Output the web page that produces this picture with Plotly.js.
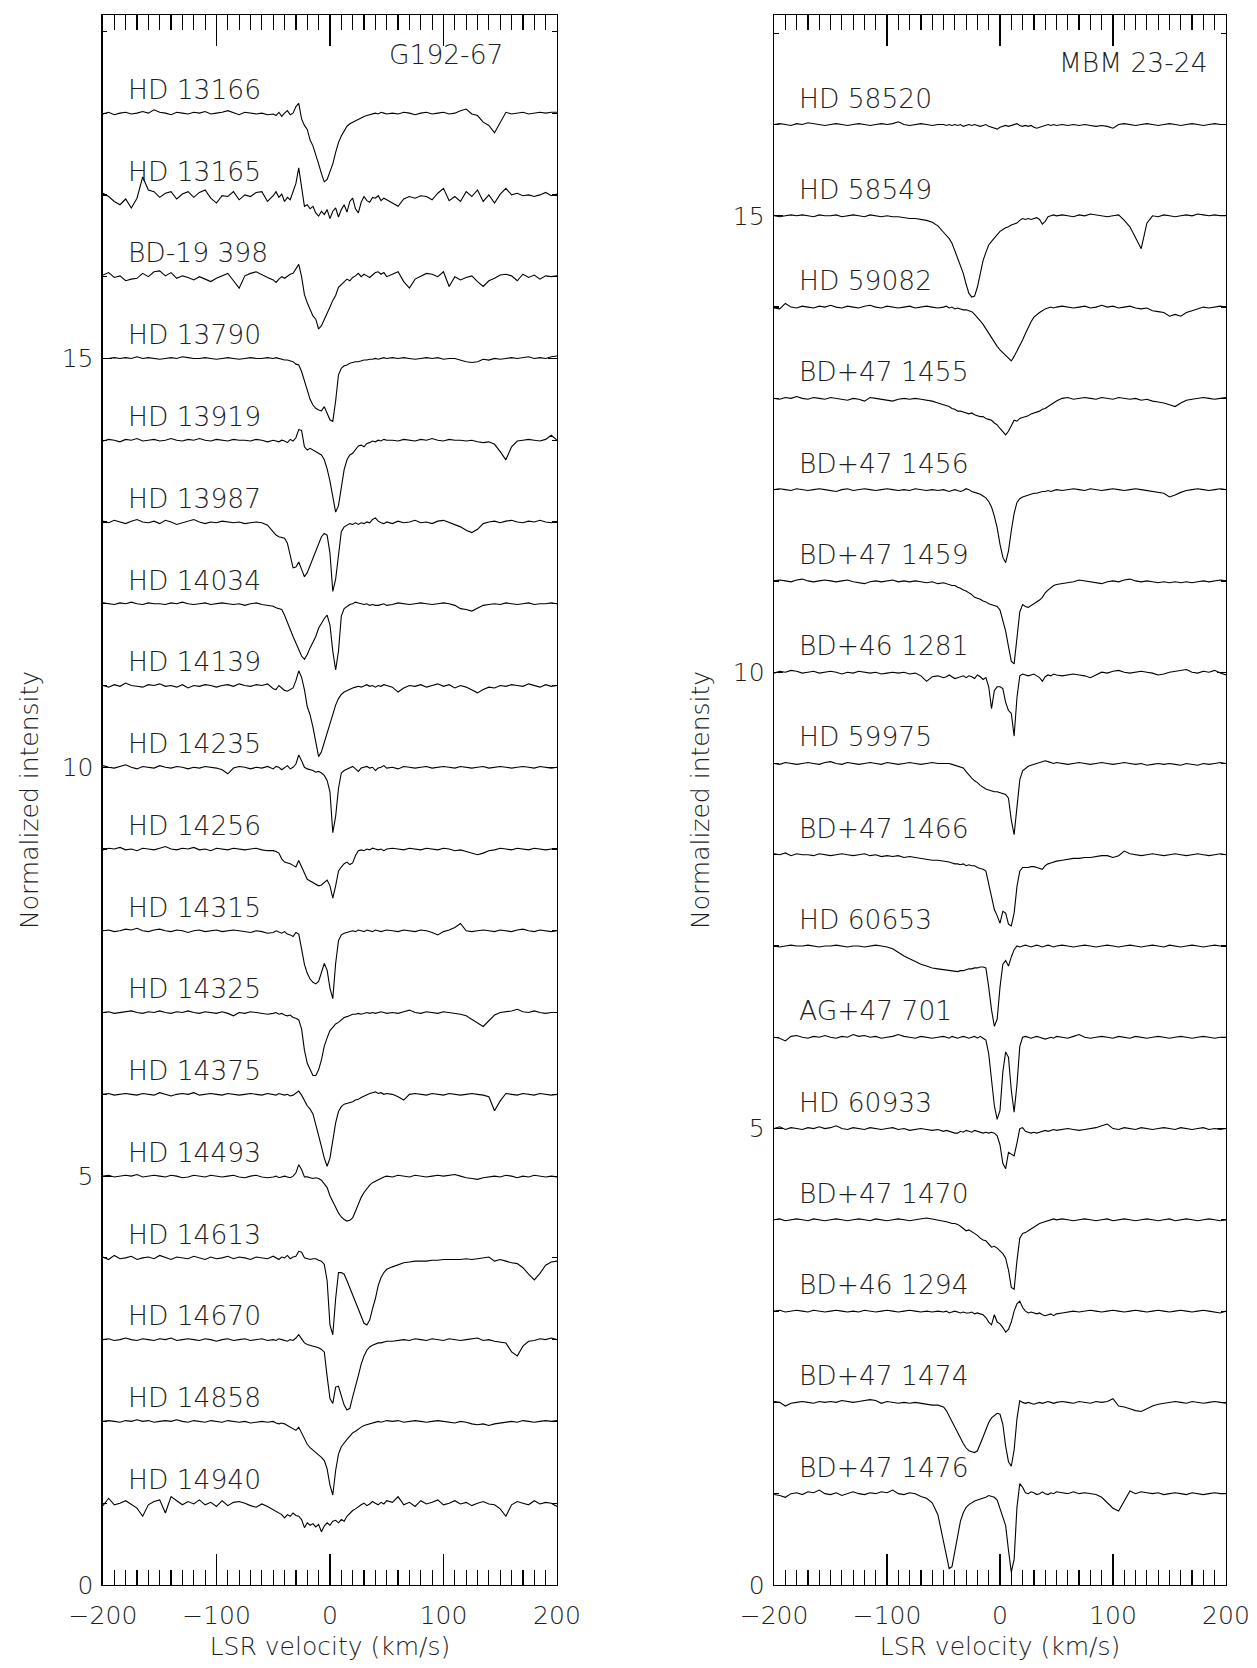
<!DOCTYPE html>
<html><head><meta charset="utf-8">
<script src="https://cdn.plot.ly/plotly-3.0.1.min.js"></script>
<style>html,body{margin:0;padding:0;background:#fff}#chart{width:1257px;height:1668px}</style>
</head><body><div id="chart"></div>
<script>
// LSR velocity grid (km/s)
const velocity = [
-200,-195,-190,-185,-180,-175,-170,-165,-160,-155,-150,-145,-140,-135,-130,-125,-120,-115,-110,-105,-100,-95,-90,-85,-80,-75,-70,-65,-60,-55,
-50,-47.5,-45,-42.5,-40,-37.5,-35,-32.5,-30,-27.5,-25,-22.5,-20,-17.5,-15,-12.5,-10,-7.5,-5,-2.5,0,2.5,5,7.5,10,12.5,15,17.5,20,22.5,25,27.5,30,32.5,35,37.5,40,42.5,45,47.5,50,
55,60,65,70,75,80,85,90,95,100,105,110,115,120,125,130,135,140,145,150,155,160,165,170,175,180,185,190,195,200];

// Normalized intensity (percent of continuum), G192-67 field
const hd13166 = [99,101,98,100,101,99,100,102,100,104,101,100,98,101,100,99,101,100,102,99,100,101,103,100,98,101,100,99,100,98,
99,97,101,96,100,103,98,100,108,112,93,85,80,67,60,50,38,26,16,19,28,38,52,64,72,79,84,87,89,91,93,95,96,97,98,99,100,99,101,100,99,
100,99,101,100,98,100,101,99,100,101,99,100,103,105,99,97,89,85,76,88,101,99,100,101,99,100,101,100,101,101];
const hd13165 = [102,98,92,88,95,84,96,122,106,104,97,102,104,95,101,104,97,103,106,96,90,99,98,104,94,100,98,103,104,92,
99,104,97,101,92,97,94,105,114,133,110,86,88,83,86,78,74,80,76,82,71,80,84,73,82,88,79,92,96,83,78,91,98,93,91,97,96,99,93,96,94,
90,86,95,98,96,99,98,94,102,108,93,98,92,104,98,106,92,100,90,101,108,100,102,99,100,98,100,103,99,101];
const bdm19_398 = [102,105,99,101,95,97,98,104,100,106,107,101,105,98,101,99,96,100,97,94,98,101,104,95,86,101,104,106,102,99,
96,93,97,100,98,101,103,104,110,115,100,78,68,61,52,48,36,40,47,55,63,71,77,87,90,94,97,95,99,101,104,100,103,101,99,102,105,106,103,105,100,
103,106,94,86,97,101,104,103,100,106,88,100,96,99,101,94,88,95,98,102,103,101,95,103,99,102,97,101,100,101];
const hd13790 = [100,100,101,100,101,100,102,100,101,100,99,100,101,100,102,101,100,100,101,100,99,100,101,100,99,100,101,100,100,101,
100,101,100,99,98,98,97,96,93,92,84,72,60,50,43,39,37,36,41,34,25,23,48,80,88,91,92,94,95,96,96,97,98,98,99,99,100,99,100,101,100,
101,100,101,100,99,100,101,100,101,99,100,100,98,96,95,96,99,98,100,99,100,101,100,101,102,100,101,100,102,103];
const hd13919 = [99,101,100,98,101,100,102,99,100,101,99,100,102,100,99,101,100,102,100,99,101,100,99,101,100,100,99,101,100,98,
100,99,98,100,99,97,101,99,103,113,112,92,88,90,88,86,85,82,76,65,50,30,12,20,42,64,76,82,84,89,93,94,92,96,97,99,98,100,99,101,100,
100,99,101,100,99,101,100,102,100,99,101,100,100,99,100,98,97,98,95,86,76,92,99,100,101,100,99,101,106,100];
const hd13987 = [101,99,102,100,98,101,103,100,99,101,98,102,100,97,99,101,103,100,98,100,99,101,100,99,100,98,99,100,99,96,
88,84,82,81,80,74,58,44,45,51,42,33,38,47,56,64,75,82,86,84,62,15,30,62,88,94,96,98,97,99,97,99,98,100,99,103,105,101,99,98,100,
98,101,99,100,102,99,100,98,101,102,99,97,94,90,87,91,98,100,101,99,101,102,100,99,101,100,102,100,99,100];
const hd14034 = [101,100,99,101,100,102,100,99,101,100,100,99,101,100,102,100,99,100,101,99,100,101,100,99,100,98,100,101,99,98,
97,95,94,93,86,77,67,60,52,43,36,32,38,46,53,60,70,77,82,86,74,42,19,42,85,94,97,99,100,102,101,100,99,100,98,99,98,98,99,100,98,
99,101,100,99,100,101,100,99,100,101,100,98,94,93,91,95,98,99,100,99,101,100,99,100,101,99,100,100,101,100];
const hd14139 = [100,98,101,99,103,100,99,98,101,100,102,99,100,98,101,97,100,99,101,100,98,100,101,99,102,100,99,101,100,102,
96,95,100,97,94,93,95,97,106,118,110,95,74,64,49,30,13,19,30,43,52,66,76,84,89,92,94,96,97,98,99,98,100,101,99,100,98,100,99,101,100,
98,92,97,100,99,101,98,100,102,99,101,97,100,98,94,91,95,98,97,100,99,101,100,99,102,100,98,101,99,100];
const hd14235 = [102,100,99,101,103,100,98,101,100,99,102,100,99,101,100,98,100,99,101,100,99,97,92,99,101,100,98,100,99,101,
98,101,100,97,99,102,98,100,104,115,108,100,98,97,96,94,95,93,90,84,70,20,40,74,93,96,98,100,101,98,95,99,100,101,99,100,96,99,100,102,99,
100,98,101,100,99,100,101,99,100,101,100,99,101,100,99,100,101,99,100,101,100,99,100,101,100,99,101,100,99,100];
const hd14256 = [99,101,100,102,99,100,98,101,100,99,101,103,100,99,101,100,102,99,100,98,101,100,99,101,100,99,100,101,99,98,
98,97,95,88,84,83,82,80,78,86,79,70,63,61,59,57,55,56,59,62,55,40,55,73,78,82,84,81,83,92,98,99,98,100,99,101,100,99,100,98,100,
101,100,99,101,100,99,101,100,99,101,100,98,99,97,95,93,95,98,99,101,100,99,101,100,99,101,100,99,100,100];
const hd14315 = [100,101,99,100,102,101,103,100,99,101,102,100,99,101,100,98,100,101,99,100,101,99,100,101,100,99,98,100,99,97,
98,100,98,97,99,96,95,93,98,96,78,59,48,41,37,35,38,48,60,52,30,17,60,88,95,97,98,99,100,99,101,100,99,101,100,99,101,100,99,100,101,
100,99,101,100,99,101,100,98,95,99,101,104,109,100,99,100,101,100,99,101,100,99,101,102,100,99,101,100,99,100];
const hd14325 = [100,101,99,100,101,102,100,99,101,100,102,100,99,101,100,102,100,99,101,100,99,101,99,96,100,99,101,100,99,98,
99,100,98,99,97,96,97,94,93,91,80,54,38,30,23,23,30,42,59,69,78,82,86,88,91,94,95,97,98,98,99,98,99,100,99,100,99,100,101,100,99,
100,99,101,103,100,99,101,100,99,101,100,99,98,96,92,88,83,90,97,100,101,102,104,101,100,102,100,99,100,100];
const hd14375 = [100,101,99,100,101,100,99,101,100,99,102,100,98,100,101,100,102,99,100,101,100,99,101,100,99,100,101,100,99,101,
100,99,101,100,99,100,98,99,101,104,99,92,86,82,76,63,51,36,22,12,22,44,65,79,85,88,89,90,91,93,94,96,98,100,101,102,103,101,102,100,101,
100,97,93,100,101,100,99,101,100,99,101,100,99,100,101,100,99,97,80,92,101,100,99,101,100,99,101,100,99,100];
const hd14493 = [100,101,99,100,101,100,102,99,100,101,100,99,101,100,98,99,101,100,99,101,100,99,100,101,99,98,100,101,99,98,
99,100,98,99,100,99,98,100,104,114,108,99,99,98,97,98,97,95,91,86,76,68,62,55,50,47,45,46,49,57,66,74,80,85,89,92,94,96,97,99,100,
99,101,100,99,101,100,99,100,101,100,101,102,100,98,97,96,98,99,100,99,101,100,98,100,99,101,100,99,100,99];
const hd14613 = [101,98,103,99,100,102,98,100,101,99,103,100,98,101,100,99,102,100,98,101,99,100,102,99,101,100,98,101,100,99,
102,100,98,101,100,103,99,101,102,108,107,100,99,98,99,99,97,96,92,72,18,6,50,82,82,80,72,63,55,46,38,28,20,18,24,38,50,66,76,82,86,
89,92,94,95,96,96,96,97,97,98,98,98,98,99,98,99,100,101,96,98,96,94,93,88,80,73,81,91,95,96];
const hd14670 = [100,101,99,100,102,100,99,101,100,99,101,100,102,99,100,101,100,99,101,100,98,100,101,99,100,101,99,100,101,99,
100,99,101,100,99,98,100,99,102,106,101,96,94,93,92,91,90,88,85,55,28,22,42,43,30,20,14,16,30,45,56,70,80,87,91,93,95,96,96,97,98,
98,99,100,99,101,100,99,101,100,99,101,100,99,100,101,102,99,100,98,97,96,85,80,92,98,99,101,100,102,100];
const hd14858 = [100,101,100,99,101,100,102,100,101,99,100,101,100,102,100,99,101,100,99,101,100,99,101,100,99,100,98,99,100,99,
100,98,97,98,97,95,93,92,89,93,86,78,72,68,65,62,60,56,52,42,22,10,40,60,69,74,78,82,86,88,91,93,95,96,97,98,99,100,99,100,101,
100,101,99,100,101,100,99,100,101,100,99,98,100,99,97,96,97,95,97,98,99,100,99,101,100,99,100,101,100,101];
const hd14940 = [97,106,98,100,103,99,94,84,98,102,104,88,108,103,98,102,99,104,98,101,96,103,97,101,102,100,97,95,99,96,
92,90,88,86,82,86,84,88,85,84,80,70,76,73,75,71,74,65,72,76,73,78,79,76,80,78,84,88,91,93,96,98,100,97,99,102,100,98,101,99,103,
101,108,98,101,96,103,99,101,104,98,100,103,99,101,97,100,102,99,98,93,84,98,102,100,98,103,99,101,100,96];

// Normalized intensity (percent of continuum), MBM 23-24 field
const hd58520 = [100,101,100,99,101,100,102,101,100,99,100,101,100,99,100,101,100,99,100,101,100,101,103,100,99,100,101,100,99,100,
100,99,100,99,100,99,100,98,99,100,99,100,99,98,99,100,98,97,96,95,97,98,99,98,99,100,101,99,98,99,98,99,97,96,97,98,99,100,99,100,99,
100,99,100,99,100,99,98,99,98,96,100,101,100,99,100,101,100,99,100,101,100,99,100,101,100,99,100,101,100,100];
const hd58549 = [100,99,100,101,100,101,100,99,101,100,100,101,99,100,101,100,99,101,100,99,100,99,99,98,97,97,96,95,93,89,
82,79,75,70,62,54,46,37,25,15,11,12,22,38,51,60,68,72,76,80,83,85,87,88,90,91,92,95,97,96,97,96,97,98,96,91,94,99,100,101,100,
101,100,99,101,100,102,101,100,99,100,101,95,88,76,64,92,100,99,101,100,99,100,101,100,102,101,100,101,100,100];
const hd59082 = [99,98,104,100,99,101,100,99,101,100,102,100,99,101,100,99,101,102,100,99,101,100,99,100,101,99,100,101,100,99,
100,101,99,100,98,99,98,97,97,96,95,92,89,85,81,76,71,66,61,57,53,50,48,45,41,46,52,57,64,71,78,84,89,92,94,96,98,99,100,99,100,
101,100,99,100,101,99,100,102,100,101,99,100,101,99,98,99,96,95,94,90,92,90,94,96,98,100,99,100,101,100];
const bdp47_1455 = [100,99,101,100,102,100,99,101,100,99,101,100,99,98,100,99,97,101,100,99,98,97,99,100,99,100,99,98,97,95,
93,92,91,89,88,86,86,85,84,83,84,82,81,80,80,78,77,76,73,71,67,63,60,64,71,76,75,78,79,80,81,83,84,85,86,88,89,91,93,95,97,
100,101,99,100,101,100,99,101,100,99,101,100,99,100,98,99,97,96,95,93,91,95,98,99,100,101,100,99,100,101];
const bdp47_1456 = [100,101,100,99,101,100,99,100,101,100,99,98,100,101,99,100,101,100,99,100,101,100,99,100,99,101,100,99,100,99,
100,99,98,99,100,99,98,99,101,100,98,97,96,95,93,91,87,81,71,58,40,26,20,33,55,74,86,90,92,93,94,95,96,96,97,98,98,99,98,99,100,
99,100,101,100,99,101,100,99,100,101,100,99,100,101,100,99,98,97,96,92,94,97,99,100,101,100,99,100,101,100];
const bdp47_1459 = [100,101,100,99,101,102,100,99,100,101,100,99,100,101,99,98,97,99,100,99,100,101,99,100,99,100,99,98,99,97,
98,97,96,95,95,93,92,90,89,87,85,82,81,80,78,77,75,74,73,72,68,56,45,28,12,9,35,66,74,72,71,73,75,77,79,82,87,90,93,95,96,
97,98,99,101,100,99,98,97,99,100,99,101,102,100,99,100,99,98,99,98,99,98,99,98,99,100,99,100,101,100];
const bdp46_1281 = [99,101,100,102,101,99,100,101,99,100,101,100,98,100,99,101,100,99,100,98,99,100,99,100,98,99,96,90,95,96,
94,95,97,95,93,94,95,96,94,96,95,93,97,95,92,94,84,60,80,84,84,82,67,58,55,30,72,96,98,97,96,97,98,96,94,90,95,97,96,98,97,
96,97,98,97,96,94,97,100,99,101,102,100,99,100,101,100,99,97,98,100,101,102,103,100,99,101,100,102,99,97];
const hd59975 = [100,99,101,100,99,100,101,100,99,101,102,100,99,101,100,99,100,101,100,99,101,100,99,100,101,100,99,100,101,100,
100,100,100,99,98,97,96,95,91,87,84,81,79,76,74,72,71,70,69,69,68,67,66,62,38,22,52,82,92,95,97,98,99,100,101,102,103,102,101,100,101,
100,99,100,101,100,99,100,101,100,99,100,101,100,99,100,98,99,100,99,100,99,98,100,99,98,100,99,100,101,100];
const bdp47_1466 = [101,100,102,99,101,100,100,99,101,100,99,100,101,100,99,100,101,99,100,98,99,98,99,97,98,97,96,95,94,94,
93,93,92,91,90,90,89,90,88,89,88,88,86,85,84,82,68,52,40,33,25,38,36,24,22,36,65,82,86,86,86,87,87,86,85,84,88,90,91,92,93,
94,95,96,96,97,97,98,99,99,97,99,104,101,100,99,100,101,100,99,100,101,100,99,100,101,100,99,100,101,100];
const hd60653 = [100,99,100,101,100,100,101,100,99,100,100,101,100,99,100,100,99,100,101,100,99,97,93,89,86,83,80,78,76,75,
74,74,73,73,72,72,73,73,74,75,75,76,76,77,77,76,55,30,12,20,55,80,84,78,88,96,100,99,100,101,100,99,100,101,100,99,100,101,100,99,100,
101,100,99,100,101,100,99,100,101,100,99,100,101,100,99,100,101,100,99,101,100,99,100,101,100,99,100,101,100,100];
const agp47_701 = [100,99,96,101,102,100,99,101,100,102,100,99,101,100,103,101,102,100,101,99,100,101,103,101,100,99,101,100,99,100,
101,100,99,101,100,99,100,101,100,99,100,101,99,101,99,97,82,50,25,10,20,62,84,78,42,18,48,90,100,101,100,99,100,101,100,99,98,99,100,99,101,
100,99,101,103,100,99,100,101,100,99,101,100,99,101,100,99,100,101,100,99,100,101,100,99,100,101,100,99,100,100];
const hd60933 = [100,102,99,101,100,99,101,100,102,100,101,103,100,99,101,100,99,101,100,99,100,101,99,100,98,99,100,99,98,99,
97,98,97,96,95,95,97,96,98,97,96,98,97,96,95,96,95,96,95,92,82,62,56,74,72,70,84,100,101,97,96,95,96,95,96,97,98,97,98,99,98,
99,100,99,98,99,100,101,103,105,100,99,101,100,99,101,100,99,100,101,100,99,101,100,99,100,101,99,100,99,100];
const bdp47_1470 = [100,101,99,100,101,100,99,101,100,99,100,101,100,99,100,101,100,99,101,100,99,100,101,100,99,100,101,102,101,100,
99,98,97,96,96,95,93,90,88,89,87,85,83,80,78,77,73,70,71,69,66,63,58,45,26,24,55,80,85,86,88,90,92,94,96,97,98,99,100,101,100,
101,100,99,100,101,100,99,100,101,99,100,101,100,99,100,101,100,99,100,101,99,100,101,100,99,100,101,100,99,100];
const bdp46_1294 = [100,101,99,100,101,100,99,101,100,99,100,101,100,99,100,99,101,100,99,100,101,100,99,100,101,100,99,100,99,100,
99,100,98,99,100,99,98,99,98,98,99,97,98,97,96,93,88,85,96,88,86,82,77,80,88,100,108,111,104,100,98,99,98,97,98,96,95,96,97,95,97,
98,99,100,99,100,101,100,99,100,101,100,99,100,101,100,99,100,101,100,99,100,101,100,99,100,101,100,99,98,100];
const bdp47_1474 = [101,100,96,99,100,101,100,99,101,100,101,100,102,101,100,101,102,103,102,99,101,100,99,100,99,100,99,98,97,97,
95,91,85,78,72,66,60,55,50,47,46,45,47,54,62,70,78,83,86,88,87,76,52,35,30,48,82,102,100,99,100,99,98,99,100,99,100,101,100,99,100,
101,100,99,101,100,99,101,100,101,104,96,95,93,91,90,93,96,98,99,100,101,100,99,101,100,99,100,101,100,99];
const bdp47_1476 = [99,98,96,100,101,99,102,101,104,100,99,101,98,100,102,100,99,101,100,102,101,104,100,99,101,100,97,95,90,77,
48,32,18,20,36,56,70,79,85,88,90,92,93,94,95,96,98,97,96,93,84,76,65,38,14,28,85,111,107,101,100,102,101,99,100,102,100,99,101,100,102,
101,100,102,100,101,100,99,96,90,84,81,92,103,100,102,101,100,101,99,100,101,100,99,101,100,99,100,101,100,100];

const leftStars = ['HD 13166','HD 13165','BD-19 398','HD 13790','HD 13919','HD 13987','HD 14034','HD 14139','HD 14235',
  'HD 14256','HD 14315','HD 14325','HD 14375','HD 14493','HD 14613','HD 14670','HD 14858','HD 14940'];
const leftSpectra = [hd13166,hd13165,bdm19_398,hd13790,hd13919,hd13987,hd14034,hd14139,hd14235,
  hd14256,hd14315,hd14325,hd14375,hd14493,hd14613,hd14670,hd14858,hd14940];
const rightStars = ['HD 58520','HD 58549','HD 59082','BD+47 1455','BD+47 1456','BD+47 1459','BD+46 1281','HD 59975',
  'BD+47 1466','HD 60653','AG+47 701','HD 60933','BD+47 1470','BD+46 1294','BD+47 1474','BD+47 1476'];
const rightSpectra = [hd58520,hd58549,hd59082,bdp47_1455,bdp47_1456,bdp47_1459,bdp46_1281,hd59975,
  bdp47_1466,hd60653,agp47_701,hd60933,bdp47_1470,bdp46_1294,bdp47_1474,bdp47_1476];
const leftField = 'G192-67';
const rightField = 'MBM 23-24';

const FONT = {family: 'DejaVu Sans, Liberation Sans, sans-serif', size: 25, color: '#1e1e1e', weight: 300};
const LABEL_FONT = {family: 'DejaVu Sans, Liberation Sans, sans-serif', size: 26.5, color: '#1e1e1e', weight: 300};
const traces = [];
const annotations = [];

function addPanel(stars, spectra, xa, ya) {
  const n = spectra.length;
  spectra.forEach((s, i) => {
    const shift = n - 1 - i;
    traces.push({
      x: velocity, y: s.map(v => v / 100 + shift),
      xaxis: xa, yaxis: ya, type: 'scatter', mode: 'lines',
      line: {color: '#000', width: 1.1}, hoverinfo: 'skip', showlegend: false
    });
    annotations.push({
      xref: xa, yref: ya, x: -180, y: shift + 1.29, text: stars[i],
      xanchor: 'left', yanchor: 'middle', showarrow: false, font: LABEL_FONT
    });
  });
}
addPanel(leftStars, leftSpectra, 'x', 'y');
addPanel(rightStars, rightSpectra, 'x2', 'y2');
annotations.push({xref: 'x', yref: 'y', x: 154, y: 18.72, text: leftField,
  xanchor: 'right', yanchor: 'middle', showarrow: false, font: LABEL_FONT});
annotations.push({xref: 'x2', yref: 'y2', x: 186, y: 16.68, text: rightField,
  xanchor: 'right', yanchor: 'middle', showarrow: false, font: LABEL_FONT});

function xAxis(domain, anchor) {
  return {
    domain: domain, anchor: anchor, range: [-200, 200], tick0: 0, dtick: 100,
    ticks: 'inside', ticklen: 31, tickwidth: 1.2, tickcolor: '#000',
    showline: true, linecolor: '#000', linewidth: 1.5, mirror: 'ticks',
    showgrid: false, zeroline: false, tickfont: FONT, ticklabelstandoff: 8,
    minor: {dtick: 10, tick0: 0, ticks: 'inside', ticklen: 15, tickwidth: 1.2, tickcolor: '#000', showgrid: false},
    title: {text: 'LSR velocity (km/s)', font: FONT, standoff: 8}
  };
}
function yAxis(domain, anchor, top) {
  return {
    domain: domain, anchor: anchor, range: [0, top], tick0: 0, dtick: 5,
    ticks: 'inside', ticklen: 9, tickwidth: 1.2, tickcolor: '#000',
    showline: true, linecolor: '#000', linewidth: 1.5, mirror: 'ticks',
    showgrid: false, zeroline: false, tickfont: FONT, ticklabelstandoff: 3,
    minor: {dtick: 1, tick0: 0, ticks: 'inside', ticklen: 4.5, tickwidth: 1.2, tickcolor: '#000', showgrid: false},
    title: {text: 'Normalized intensity', font: FONT, standoff: 16}
  };
}
const yDom = [0.0498, 0.9910];
const layout = {
  width: 1257, height: 1668, margin: {l: 0, r: 0, t: 0, b: 0},
  paper_bgcolor: '#fff', plot_bgcolor: '#fff', showlegend: false,
  font: FONT,
  xaxis: xAxis([0.0819, 0.4431], 'y'),
  yaxis: yAxis(yDom, 'x', 19.2),
  xaxis2: xAxis([0.6158, 0.9753], 'y2'),
  yaxis2: yAxis(yDom, 'x2', 17.2),
  annotations: annotations
};
Plotly.newPlot('chart', traces, layout, {staticPlot: true});
</script></body></html>
